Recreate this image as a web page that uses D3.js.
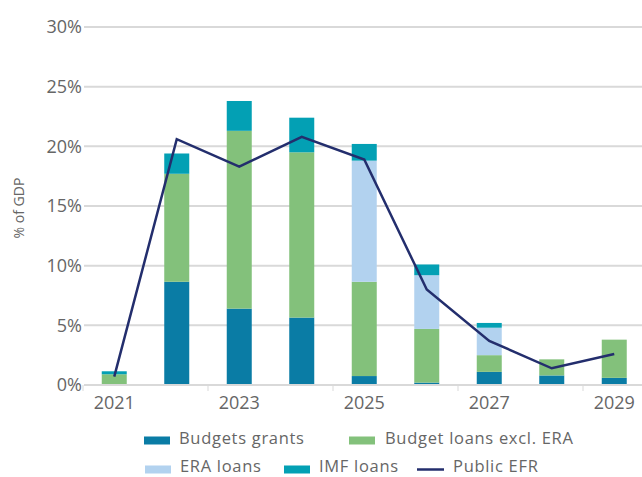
<!DOCTYPE html>
<html>
<head>
<meta charset="utf-8">
<script src="https://cdn.jsdelivr.net/npm/d3@7"></script>
<style>
  html, body { margin: 0; padding: 0; background: #fff; }
  svg { display: block; font-family: "Open Sans", sans-serif; }
</style>
</head>
<body>
<svg id="chart" width="642" height="477"></svg>
<script>
// Financing sources, % of GDP
const years = [2021, 2022, 2023, 2024, 2025, 2026, 2027, 2028, 2029];
const budgetGrants = [0, 8.65, 6.4, 5.65, 0.75, 0.2, 1.1, 0.8, 0.6];
const budgetLoansExclEra = [0.9, 9.05, 14.9, 13.85, 7.9, 4.5, 1.4, 1.35, 3.2];
const eraLoans = [0, 0, 0, 0, 10.15, 4.5, 2.3, 0, 0];
const imfLoans = [0.25, 1.7, 2.5, 2.9, 1.4, 0.9, 0.4, 0, 0];
const publicEfr = [0.7, 20.6, 18.3, 20.8, 18.9, 8.0, 3.7, 1.4, 2.6];
const yTicks = [0, 5, 10, 15, 20, 25, 30];
const xLabelYears = [2021, 2023, 2025, 2027, 2029];

const seriesKeys = ["grants", "loans", "era", "imf"];
const seriesNames = {
  grants: "Budgets grants",
  loans: "Budget loans excl. ERA",
  era: "ERA loans",
  imf: "IMF loans"
};
const colors = {
  grants: "#0a7ca5",
  loans: "#83c17b",
  era: "#b2d2ef",
  imf: "#03a0b4",
  line: "#232e6d",
  grid: "#d9d9d9",
  text: "#666666"
};

const rows = years.map((y, i) => ({
  year: y,
  grants: budgetGrants[i],
  loans: budgetLoansExclEra[i],
  era: eraLoans[i],
  imf: imfLoans[i]
}));

const svg = d3.select("#chart");

const x = d3.scaleBand()
  .domain(years)
  .range([83, 645.5])
  .paddingInner(0.6)
  .paddingOuter(0.3);

const y = d3.scaleLinear().domain([0, 30]).range([385, 27]);

// Horizontal gridlines
svg.append("g")
  .selectAll("line")
  .data(yTicks)
  .join("line")
  .attr("x1", 84)
  .attr("x2", 642)
  .attr("y1", d => y(d))
  .attr("y2", d => y(d))
  .attr("stroke", colors.grid)
  .attr("stroke-width", 2);

// Y tick labels
svg.append("g")
  .selectAll("text")
  .data(yTicks)
  .join("text")
  .attr("x", 82)
  .attr("y", d => y(d))
  .attr("dy", "0.35em")
  .attr("text-anchor", "end")
  .attr("font-size", 18)
  .attr("fill", colors.text)
  .text(d => d + "%");

// Y axis title
svg.append("text")
  .attr("transform", "translate(24,208) rotate(-90)")
  .attr("text-anchor", "middle")
  .attr("font-size", 14)
  .attr("fill", colors.text)
  .text("% of GDP");

// Stacked bars
const stacked = d3.stack().keys(seriesKeys)(rows);
svg.append("g")
  .selectAll("g")
  .data(stacked)
  .join("g")
  .attr("fill", d => colors[d.key])
  .selectAll("rect")
  .data(d => d.filter(s => s[1] - s[0] > 0))
  .join("rect")
  .attr("x", d => x(d.data.year))
  .attr("width", x.bandwidth())
  .attr("y", d => y(d[1]))
  .attr("height", d => y(d[0]) - y(d[1]));

// X axis baseline and ticks
const xAxisG = svg.append("g");
xAxisG.append("line")
  .attr("x1", 84).attr("x2", 642)
  .attr("y1", y(0)).attr("y2", y(0))
  .attr("stroke", colors.grid).attr("stroke-width", 2);

const step = x.step();
const tickPos = xLabelYears.map(yr => x(yr) - step * x.paddingInner() / 2);
xAxisG.selectAll("line.tick")
  .data(tickPos)
  .join("line")
  .attr("class", "tick")
  .attr("x1", d => d).attr("x2", d => d)
  .attr("y1", y(0)).attr("y2", y(0) + 6)
  .attr("stroke", colors.grid).attr("stroke-width", 1);

xAxisG.selectAll("text")
  .data(xLabelYears)
  .join("text")
  .attr("x", d => x(d) + x.bandwidth() / 2)
  .attr("y", 409)
  .attr("text-anchor", "middle")
  .attr("font-size", 18)
  .attr("fill", colors.text)
  .text(d => d);

// Public EFR line
const line = d3.line()
  .x((d, i) => x(years[i]) + x.bandwidth() / 2)
  .y(d => y(d));
svg.append("path")
  .datum(publicEfr)
  .attr("d", line)
  .attr("fill", "none")
  .attr("stroke", colors.line)
  .attr("stroke-width", 2.5)
  .attr("stroke-linejoin", "miter");

// Legend
const legendItems = [
  { key: "grants", type: "rect", sx: 144, tx: 179, cy: 440.5, base: 443.5 },
  { key: "loans", type: "rect", sx: 349, tx: 385, cy: 440.5, base: 443.5 },
  { key: "era", type: "rect", sx: 145, tx: 180, cy: 469.5, base: 472 },
  { key: "imf", type: "rect", sx: 284, tx: 319, cy: 469.5, base: 472 },
  { key: "line", type: "line", sx: 417, tx: 453, cy: 469.5, base: 472 }
];
const legend = svg.append("g");
legendItems.forEach(it => {
  if (it.type === "rect") {
    legend.append("rect")
      .attr("x", it.sx).attr("y", it.cy - 4)
      .attr("width", 26).attr("height", 8)
      .attr("fill", colors[it.key]);
  } else {
    legend.append("line")
      .attr("x1", it.sx).attr("x2", it.sx + 27)
      .attr("y1", it.cy).attr("y2", it.cy)
      .attr("stroke", colors.line).attr("stroke-width", 2.5);
  }
  legend.append("text")
    .attr("x", it.tx)
    .attr("y", it.base)
    .attr("font-size", 16.5)
    .attr("letter-spacing", 0.7)
    .attr("fill", colors.text)
    .text(it.key === "line" ? "Public EFR" : seriesNames[it.key]);
});
</script>
</body>
</html>
